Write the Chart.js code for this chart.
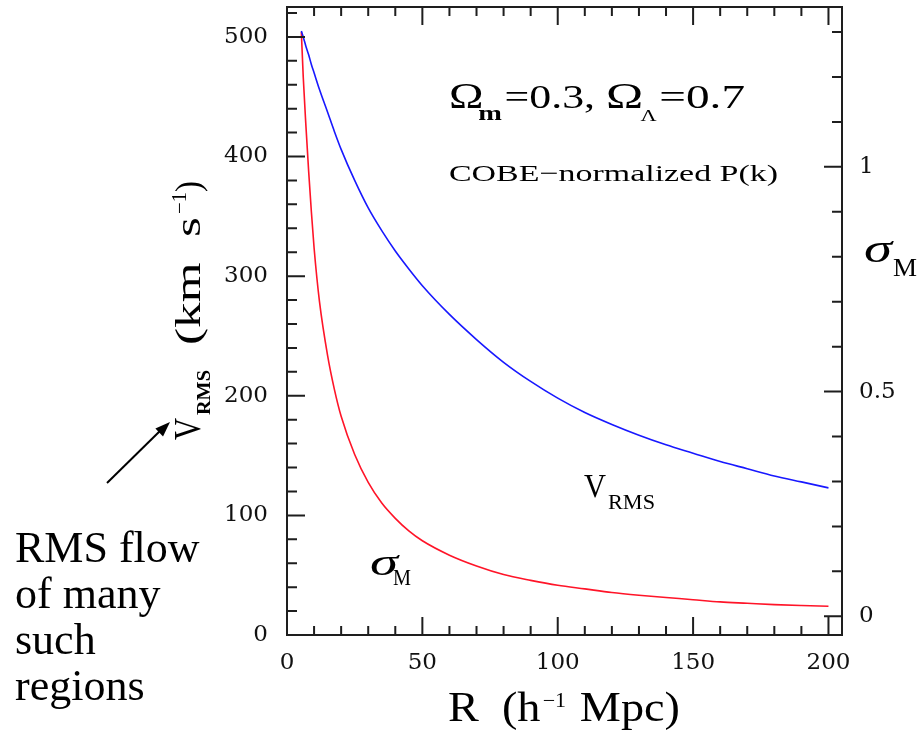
<!DOCTYPE html>
<html>
<head>
<meta charset="utf-8">
<script src="https://cdn.jsdelivr.net/npm/chart.js@4.4.1/dist/chart.umd.min.js"></script>
<style>
  body { margin: 0; background: #fff; }
  canvas { display: block; }
</style>
</head>
<body>
<canvas id="flowChart" width="917" height="734"></canvas>
<script>

// ==========================
// DATA
// ==========================

const radius = [5.3, 6, 7, 8, 9, 10, 12, 15, 17.5, 20, 25, 30, 35, 40, 45, 50,
    60, 70, 80, 90, 100, 110, 120, 130, 140, 150, 160, 170, 180, 190, 200];

// V_RMS in km/s (left axis)
const vRms = [505, 500, 492, 485, 477, 470, 456, 437, 421, 406, 380, 357, 338, 321, 306, 292,
    268, 247, 228, 212, 198, 186, 176, 167, 159, 152, 145, 139, 133, 128, 123];

// sigma_M (right axis)
const sigmaM = [1.30, 1.20, 1.09, 0.99, 0.90, 0.82, 0.70, 0.58, 0.505, 0.445, 0.36, 0.298, 0.252, 0.218, 0.190, 0.168,
    0.136, 0.112, 0.093, 0.080, 0.069, 0.061, 0.053, 0.047, 0.042, 0.037, 0.032, 0.029, 0.026, 0.024, 0.0225];

const xTicks = [0, 50, 100, 150, 200];
const yTicks = [0, 100, 200, 300, 400, 500];
const sigmaTicks = [0, 0.5, 1];

const INK = "#1e1e1e";
const SERIF = "'Liberation Serif', serif";
const TICKFONT = { family: "'DejaVu Serif', serif", size: 23 };

// ==========================
// HELPERS
// ==========================

// pieces: [text, size, dx, dy, style]  drawn one after another
function drawPieces(ctx, pieces, x, y, targetW){
    const fontOf = p => (p[4] || "") + " " + p[1] + "px " + SERIF;
    let total = 0;
    pieces.forEach(p => {
        ctx.font = fontOf(p);
        total += (p[2] || 0) + ctx.measureText(p[0]).width;
    });
    const sx = targetW ? targetW / total : 1;
    ctx.save();
    ctx.translate(x, y);
    ctx.scale(sx, 1);
    let cx = 0;
    pieces.forEach(p => {
        ctx.font = fontOf(p);
        cx += p[2] || 0;
        ctx.fillText(p[0], cx, p[3] || 0);
        cx += ctx.measureText(p[0]).width;
    });
    ctx.restore();
}

// keep the plot box where the figure has it
function fixBox(size){
    return s => {
        if(s.isHorizontal()){ s.height = size; } else { s.width = size; }
        s.paddingTop = 0;
        s.paddingBottom = 0;
        s.paddingLeft = 0;
        s.paddingRight = 0;
    };
}

// ==========================
// FRAME + INWARD TICKS
// ==========================

const frameTicks = {
    id: "frameTicks",
    afterDatasetsDraw(chart){
        const { ctx, chartArea: a, scales } = chart;
        ctx.save();
        ctx.strokeStyle = INK;
        ctx.lineWidth = 2;
        ctx.beginPath();
        const seg = (x1, y1, x2, y2) => { ctx.moveTo(x1, y1); ctx.lineTo(x2, y2); };

        // R axis, bottom and top
        for(let v = 0; v <= 200; v += 10){
            const px = scales.x.getPixelForValue(v);
            const len = v % 50 === 0 ? 18 : 9;
            seg(px, a.bottom, px, a.bottom - len);
            seg(px, a.top, px, a.top + len);
        }

        // V axis, left
        for(let v = 0; v <= 520; v += 20){
            const py = scales.y.getPixelForValue(v);
            seg(a.left, py, a.left + (v % 100 === 0 ? 18 : 10), py);
        }

        // sigma axis, right
        for(let i = 0; i <= 13; i++){
            const py = scales.y2.getPixelForValue(i / 10);
            seg(a.right, py, a.right - (i % 5 === 0 ? 18 : 10), py);
        }
        ctx.stroke();

        ctx.strokeRect(a.left, a.top, a.right - a.left, a.bottom - a.top);
        ctx.restore();
    }
};

// ==========================
// LABELS
// ==========================

const labels = {
    id: "labels",
    afterDraw(chart){
        const ctx = chart.ctx;
        ctx.save();
        ctx.fillStyle = "#000";
        ctx.textBaseline = "alphabetic";
        ctx.textAlign = "left";

        // parameters
        drawPieces(ctx, [["Ω", 36], ["m", 22, -4, 12, "bold"], ["=0.3,", 34, 2]], 449, 108, 146);
        drawPieces(ctx, [["Ω", 36], ["Λ", 16, -2, 13], ["=0.7", 34, 2]], 606, 108, 139);
        drawPieces(ctx, [["COBE−normalized P(k)", 24]], 449, 181, 329);

        // curve names
        drawPieces(ctx, [["V", 34]], 584, 497, 22);
        drawPieces(ctx, [["RMS", 21]], 608, 509, 47);
        drawPieces(ctx, [["σ", 38, 0, 0, "italic"]], 370, 575, 28);
        drawPieces(ctx, [["M", 24]], 393, 585, 18);

        // right axis title
        drawPieces(ctx, [["σ", 40, 0, 0, "italic"]], 864, 262, 28);
        drawPieces(ctx, [["M", 26]], 893, 276, 24);

        // x axis title
        drawPieces(ctx, [["R  (h", 42], ["−1", 20, 2, -14], [" Mpc)", 42, 2]], 448, 721, 232);

        // left axis title (rotated)
        ctx.save();
        ctx.translate(200, 440);
        ctx.rotate(-Math.PI / 2);
        drawPieces(ctx, [["V", 38]], 0, 0, 22);
        drawPieces(ctx, [["RMS", 18, 0, 0, "bold"]], 25, 10, 45);
        drawPieces(ctx, [["(km  s", 36]], 95, 0, 128);
        drawPieces(ctx, [["−1", 20]], 226, -14, 22);
        drawPieces(ctx, [[")", 36]], 248, 0, 11);
        ctx.restore();

        // arrow + note
        ctx.strokeStyle = "#000";
        ctx.lineWidth = 2;
        ctx.beginPath();
        ctx.moveTo(107, 483);
        ctx.lineTo(163, 428);
        ctx.stroke();
        const ang = Math.atan2(422 - 483, 170 - 107);
        ctx.beginPath();
        ctx.moveTo(170, 422);
        ctx.lineTo(170 - 16 * Math.cos(ang - 0.35), 422 - 16 * Math.sin(ang - 0.35));
        ctx.lineTo(170 - 16 * Math.cos(ang + 0.35), 422 - 16 * Math.sin(ang + 0.35));
        ctx.closePath();
        ctx.fill();

        ctx.font = "44px " + SERIF;
        ["RMS flow", "of many", "such", "regions"].forEach((t, i) => {
            ctx.fillText(t, 15, 562 + i * 46);
        });

        ctx.restore();
    }
};

// ==========================
// CHART
// ==========================

const lineStyle = { showLine: true, pointRadius: 0, borderWidth: 1.6, cubicInterpolationMode: "monotone", fill: false };

new Chart(document.getElementById("flowChart"), {

    type: "scatter",

    data: {
        datasets: [
            Object.assign({
                label: "V_RMS",
                data: radius.map((r, i) => ({ x: r, y: vRms[i] })),
                borderColor: "#1818ff",
                yAxisID: "y"
            }, lineStyle),
            Object.assign({
                label: "sigma_M",
                data: radius.map((r, i) => ({ x: r, y: sigmaM[i] })),
                borderColor: "#ff1428",
                yAxisID: "y2"
            }, lineStyle)
        ]
    },

    options: {
        responsive: false,
        animation: false,
        devicePixelRatio: 1,
        layout: { padding: { top: 7, left: 0, right: 0, bottom: 0 } },
        plugins: { legend: { display: false }, tooltip: { enabled: false } },
        scales: {
            x: {
                type: "linear",
                position: "bottom",
                min: 0,
                max: 205,
                afterBuildTicks: s => { s.ticks = xTicks.map(v => ({ value: v })); },
                afterFit: fixBox(99),
                grid: { display: false, drawTicks: false },
                border: { display: false },
                ticks: { padding: 14, font: TICKFONT, color: "#111", maxRotation: 0 }
            },
            y: {
                type: "linear",
                position: "left",
                min: 0,
                max: 525,
                afterBuildTicks: s => { s.ticks = yTicks.map(v => ({ value: v })); },
                afterFit: fixBox(287),
                grid: { display: false, drawTicks: false },
                border: { display: false },
                ticks: { padding: 19, font: TICKFONT, color: "#111" }
            },
            y2: {
                type: "linear",
                position: "right",
                min: -0.0416,
                max: 1.3557,
                afterBuildTicks: s => { s.ticks = sigmaTicks.map(v => ({ value: v })); },
                afterFit: fixBox(75),
                grid: { display: false, drawTicks: false },
                border: { display: false },
                ticks: { padding: 17, font: TICKFONT, color: "#111", callback: v => String(v) }
            }
        }
    },

    plugins: [frameTicks, labels]

});

</script>
</body>
</html>
